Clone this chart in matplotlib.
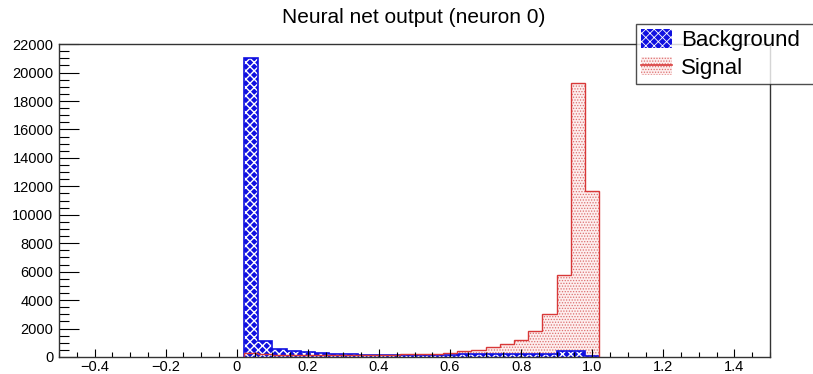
import numpy as np
import matplotlib
matplotlib.use("Agg")
import matplotlib.pyplot as plt
from matplotlib.patches import Patch
from matplotlib.lines import Line2D
from matplotlib.ticker import MultipleLocator, FuncFormatter

plt.rcParams['font.family'] = ['Liberation Sans', 'DejaVu Sans']

# histogram: 50 bins from -0.5 to 1.5 (width 0.04); non-empty bins 0.02 .. 1.02
x_min, x_max, n_bins = -0.5, 1.5, 50
first_bin = 13  # bin starting at 0.02

background_nonzero = [21000, 1100, 570, 400, 320, 270, 220, 190, 170, 160,
                      150, 150, 150, 160, 170, 180, 190, 200, 210, 220,
                      230, 240, 420, 430, 90]
signal_nonzero = [300, 200, 170, 160, 150, 150, 150, 150, 150, 160,
                  170, 180, 200, 240, 300, 400, 520, 730, 940, 1220,
                  1800, 3000, 5800, 19300, 11700]

title = "Neural net output (neuron 0)"
labels = ["Background", "Signal"]

edges = np.linspace(x_min, x_max, n_bins + 1)
sub_edges = edges[first_bin:first_bin + len(background_nonzero) + 1]
bg = np.array(background_nonzero, dtype=float)
sg = np.array(signal_nonzero, dtype=float)

blue = '#1010e0'
red = '#d83838'
dot = '#dc7070'
pink = '#fdeeee'

fig = plt.figure(figsize=(8.13, 3.74), dpi=100)
ax = fig.add_axes([0.0726, 0.0455, 0.8745, 0.8365])

plt.rcParams['hatch.linewidth'] = 0.6
ax.stairs(sg, sub_edges, fill=True, facecolor=pink, edgecolor=dot, hatch='......', linewidth=0)
plt.rcParams['hatch.linewidth'] = 1.0
ax.stairs(bg, sub_edges, fill=True, facecolor=blue, edgecolor='white', hatch='xxxx', linewidth=0)
ax.stairs(bg, sub_edges, color=blue, linewidth=1.2)
ax.stairs(sg, sub_edges, color=red, linewidth=1.0)

ax.set_xlim(x_min, x_max)
ax.set_ylim(0, 22000)
ax.xaxis.set_major_locator(MultipleLocator(0.2))
ax.xaxis.set_minor_locator(MultipleLocator(0.05))
ax.yaxis.set_major_locator(MultipleLocator(2000))
ax.yaxis.set_minor_locator(MultipleLocator(500))
ax.tick_params(axis='y', which='major', direction='in', length=14.4, width=0.8,
               labelsize=10.5, pad=4, right=False)
ax.tick_params(axis='y', which='minor', direction='in', length=7.2, width=0.8, right=False)
ax.tick_params(axis='x', which='major', direction='in', length=5.8, width=0.8,
               labelsize=10.5, pad=2, top=False)
ax.tick_params(axis='x', which='minor', direction='in', length=3.6, width=0.8, top=False)
ax.xaxis.set_major_formatter(FuncFormatter(
    lambda v, p: ('0' if abs(v) < 1e-9 else f"{v:.1f}").replace('-', '\u2212')))
for s in ax.spines.values():
    s.set_color('#333333')
    s.set_linewidth(1.0)
    s.set_zorder(5)

fig.text(0.509, 0.952, title, ha='center', va='center', fontsize=15)

plt.rcParams['hatch.linewidth'] = 1.0
h_bg = Patch(facecolor=blue, edgecolor='white', hatch='xxxx', linewidth=0)
plt.rcParams['hatch.linewidth'] = 0.6
h_sg = (Patch(facecolor=pink, edgecolor=dot, hatch='......', linewidth=0),
        Line2D([], [], color=red, linewidth=1.2))
leg = fig.legend([h_bg, h_sg], labels, loc='upper left',
                 bbox_to_anchor=(0.782, 0.775, 0.22, 0.161), mode='expand',
                 fontsize=16, fancybox=False, frameon=True, borderaxespad=0,
                 handlelength=1.4, handletextpad=0.4, labelspacing=0.25,
                 borderpad=0.25, handleheight=0.9)
leg.get_frame().set_edgecolor('#222222')
leg.get_frame().set_linewidth(1.0)
leg.set_zorder(10)

fig.savefig('out.png', dpi=100)
